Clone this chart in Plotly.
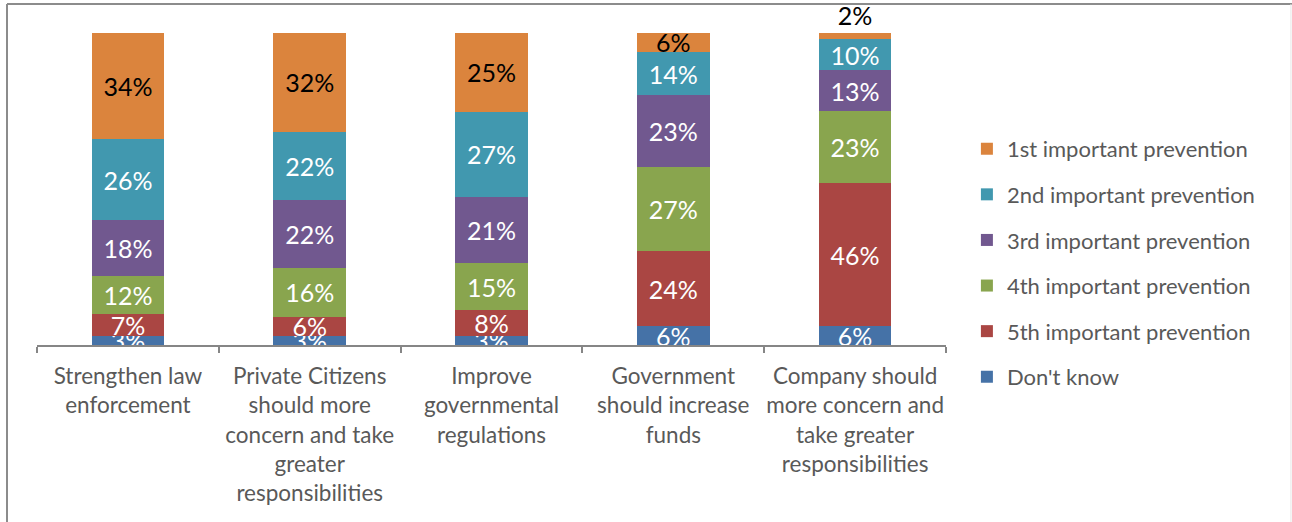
import plotly.graph_objects as go

# Survey: ranking of prevention measures (share of respondents, %)
categories = [
    "Strengthen law<br>enforcement",
    "Private Citizens<br>should more<br>concern and take<br>greater<br>responsibilities",
    "Improve<br>governmental<br>regulations",
    "Government<br>should increase<br>funds",
    "Company should<br>more concern and<br>take greater<br>responsibilities",
]

dont_know = [3, 3, 3, 6, 6]
fifth = [7, 6, 8, 24, 46]
fourth = [12, 16, 15, 27, 23]
third = [18, 22, 21, 23, 13]
second = [26, 22, 27, 14, 10]
first = [34, 32, 25, 6, 2]

series = [
    ("Don't know", dont_know, "#4572A7", "white"),
    ("5th important prevention", fifth, "#AA4643", "white"),
    ("4th important prevention", fourth, "#89A54E", "white"),
    ("3rd important prevention", third, "#71588F", "white"),
    ("2nd important prevention", second, "#4198AF", "white"),
    ("1st important prevention", first, "#DB843D", "black"),
]

FONT = "Lato"
LABEL_SIZE = 25
GRAY_TEXT = "#595959"

fig = go.Figure()
for i, (name, vals, color, txtcolor) in enumerate(series):
    is_top = i == len(series) - 1
    if is_top:
        # tiny top segment gets its label just above the bar
        positions = ["inside" if v >= 5 else "outside" for v in vals]
    else:
        positions = "inside"
    fig.add_trace(go.Bar(
        name=name,
        x=categories,
        y=vals,
        marker=dict(color=color, line=dict(width=0)),
        text=[f"{v}%" for v in vals],
        texttemplate="%{text}",
        textposition=positions,
        insidetextanchor="middle",
        textangle=0,
        textfont=dict(family=FONT, size=LABEL_SIZE, color=txtcolor),
        outsidetextfont=dict(family=FONT, size=LABEL_SIZE, color="black"),
        cliponaxis=not is_top,
        legendgroup=name,
        legendrank=1000 - 10 * i,
        hoverinfo="skip",
    ))

fig.update_layout(
    width=1292,
    height=522,
    barmode="stack",
    barnorm="percent",
    bargap=0.6,
    paper_bgcolor="white",
    plot_bgcolor="white",
    margin=dict(l=37, r=346, t=33, b=177, autoexpand=False),
    font=dict(family=FONT, color=GRAY_TEXT),
    uniformtext=dict(minsize=LABEL_SIZE, mode="show"),
    legend=dict(
        x=1.023,
        xanchor="left",
        y=0.263,
        yanchor="middle",
        traceorder="grouped",
        tracegroupgap=14,
        maxheight=500,
        font=dict(family=FONT, size=22, color=GRAY_TEXT),
        bgcolor="rgba(0,0,0,0)",
    ),
    showlegend=True,
)

fig.update_xaxes(
    showline=True,
    linecolor="#868686",
    linewidth=2,
    ticks="outside",
    tickson="boundaries",
    ticklen=6,
    tickwidth=2,
    tickcolor="#868686",
    tickangle=0,
    ticklabelstandoff=10,
    automargin=False,
    tickfont=dict(family=FONT, size=22.5, color=GRAY_TEXT),
    showgrid=False,
    fixedrange=True,
)
fig.update_yaxes(
    range=[0, 100],
    visible=False,
    showgrid=False,
    automargin=False,
    fixedrange=True,
)

# chart frame: top and left edges, faint right edge
frame = "#8c8c8c"
fig.add_shape(type="line", xref="paper", yref="paper",
              x0=-0.033, x1=1.40, y0=1.093, y1=1.093,
              line=dict(color=frame, width=2))
fig.add_shape(type="line", xref="paper", yref="paper",
              x0=-0.033, x1=-0.033, y0=1.093, y1=-0.7,
              line=dict(color=frame, width=2))
fig.add_shape(type="line", xref="paper", yref="paper",
              x0=1.3795, x1=1.3795, y0=1.093, y1=-0.7,
              line=dict(color="#e6e6e6", width=1))

fig.write_html("out.html")
